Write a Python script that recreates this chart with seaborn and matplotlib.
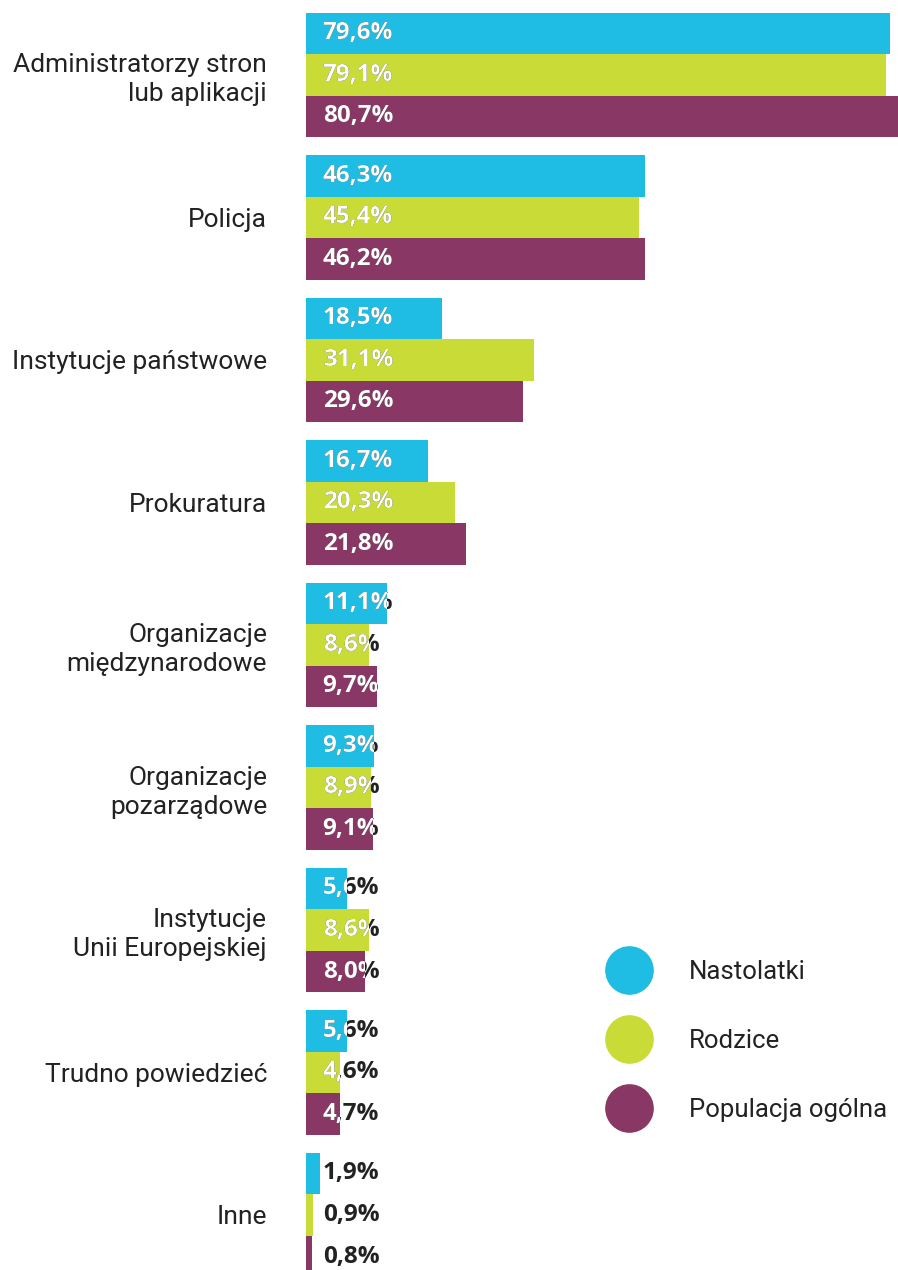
import pandas as pd
import seaborn as sns
import matplotlib.pyplot as plt
from matplotlib.lines import Line2D

categories = ['Administratorzy stron\nlub aplikacji', 'Policja', 'Instytucje państwowe',
              'Prokuratura', 'Organizacje\nmiędzynarodowe', 'Organizacje\npozarządowe',
              'Instytucje\nUnii Europejskiej', 'Trudno powiedzieć', 'Inne']
series = ['Nastolatki', 'Rodzice', 'Populacja ogólna']
nastolatki = [79.6, 46.3, 18.5, 16.7, 11.1, 9.3, 5.6, 5.6, 1.9]
rodzice = [79.1, 45.4, 31.1, 20.3, 8.6, 8.9, 8.6, 4.6, 0.9]
populacja = [80.7, 46.2, 29.6, 21.8, 9.7, 9.1, 8.0, 4.7, 0.8]
colors = ['#1fbde3', '#c9db36', '#893764']

rows = []
for s, vals in zip(series, [nastolatki, rodzice, populacja]):
    for c, v in zip(categories, vals):
        rows.append({'cat': c, 'series': s, 'val': v})
df = pd.DataFrame(rows)

sns.set_style('white')
plt.rcParams['font.family'] = ['Roboto', 'DejaVu Sans']

fig = plt.figure(figsize=(8.98, 12.7), dpi=100)
ax = fig.add_axes([306 / 898, 0, 1 - 306 / 898, 1])

sns.barplot(data=df, y='cat', x='val', hue='series', orient='h', palette=colors,
            order=categories, hue_order=series, width=0.874, gap=0, dodge=True,
            saturation=1, legend=False, linewidth=0, ax=ax)

ax.set_xlim(0, 80.75)
ax.set_ylim(8.386, -0.526)
ax.set_xlabel('')
ax.set_ylabel('')
ax.set_xticks([])
sns.despine(ax=ax, left=True, bottom=True)
ax.tick_params(axis='y', length=0, pad=28)
for lab in ax.get_yticklabels():
    lab.set_fontsize(19)
    lab.set_color('#222222')
    lab.set_multialignment('right')
    lab.set_linespacing(1.25)

# value labels: dark outside the bar, white where the bar covers the text
for patch in ax.patches:
    w = patch.get_width()
    if w <= 0:
        continue
    y = patch.get_y() + patch.get_height() / 2
    txt = f'{w:.1f}'.replace('.', ',') + '%'
    kw = dict(xy=(0, y), xytext=(12, 0), textcoords='offset points', va='center',
              ha='left', fontsize=17.5, fontweight='bold', family=['Open Sans', 'DejaVu Sans'])
    ax.annotate(txt, color='#222222', **kw)
    t = ax.annotate(txt, color='white', **kw)
    t.set_clip_path(patch)

handles = [Line2D([], [], marker='o', linestyle='', markersize=34, color=c) for c in colors]
fig.legend(handles, series, loc='upper left', bbox_to_anchor=(592.6 / 898, 1 - 950 / 1270),
           frameon=False, fontsize=18.5, labelspacing=1.75, handletextpad=1.35,
           handlelength=2.0, labelcolor='#222222', borderaxespad=0)

fig.savefig('out.png', dpi=100)
